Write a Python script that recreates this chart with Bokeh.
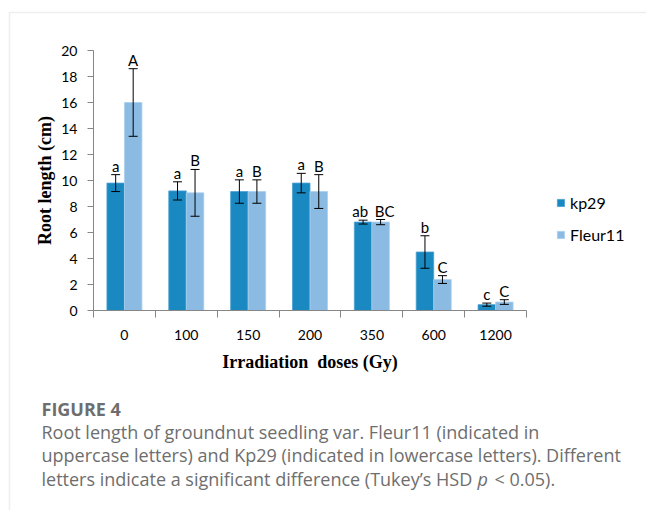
from bokeh.plotting import figure
from bokeh.models import (ColumnDataSource, Range1d, FixedTicker, Whisker, TeeHead,
                          Legend, LegendItem, Label, BoxAnnotation)
from bokeh.core.properties import value
from bokeh.embed import file_html
from bokeh.resources import INLINE

# ---- data ----
doses = ["0", "100", "150", "200", "350", "600", "1200"]
kp29 = [9.8, 9.2, 9.15, 9.8, 6.8, 4.5, 0.45]
kp29_err = [0.65, 0.7, 0.9, 0.75, 0.15, 1.25, 0.12]
fleur11 = [16.0, 9.05, 9.15, 9.15, 6.8, 2.38, 0.65]
fleur11_err = [2.6, 1.8, 0.9, 1.3, 0.2, 0.3, 0.18]
kp29_letters = ["a", "a", "a", "a", "ab", "b", "c"]
fleur11_letters = ["A", "B", "B", "B", "BC", "C", "C"]
y_ticks = list(range(0, 21, 2))

caption_title = "FIGURE 4"
caption_lines = [
    "Root length of groundnut seedling var. Fleur11 (indicated in",
    "uppercase letters) and Kp29 (indicated in lowercase letters). Different",
]
caption_last = ["letters indicate a significant difference (Tukey\u2019s HSD", "p", "< 0.05)."]

C_KP = "#1a89c2"
C_FL = "#8bbbe2"
AX = "#868686"
FONT = "Lato"

# ---- layout (pixels on the 646x510 canvas) ----
W, H = 646, 510
PL, PR, PT, PB = 93, 526, 50, 310      # plotting area
n = len(doses)
YMAX = 20
sx = (PR - PL) / n                      # px per category
sy = (PB - PT) / YMAX                   # px per unit
x0 = -PL / sx
x1 = n + (W - PR) / sx
y0 = -(H - PB) / sy
y1 = YMAX + PT / sy

def px_x(px):
    return x0 + px / sx

def px_y(py):
    return y1 - py / sy

centers = [i + 0.5 for i in range(n)]
bw = 0.283
off = bw / 2

src_kp = ColumnDataSource(dict(
    x=[c - off for c in centers], top=kp29,
    upper=[v + e for v, e in zip(kp29, kp29_err)],
    lower=[v - e for v, e in zip(kp29, kp29_err)],
    lab=kp29_letters,
    dx=[-3 * (len(t) - 1) for t in kp29_letters]))
src_fl = ColumnDataSource(dict(
    x=[c + off for c in centers], top=fleur11,
    upper=[v + e for v, e in zip(fleur11, fleur11_err)],
    lower=[v - e for v, e in zip(fleur11, fleur11_err)],
    lab=fleur11_letters,
    dx=[4 * (len(t) - 1) for t in fleur11_letters]))

p = figure(width=W, height=H, output_backend="svg", toolbar_location=None,
           x_range=Range1d(x0, x1), y_range=Range1d(y0, y1),
           min_border=0, min_border_left=0, min_border_right=0,
           min_border_top=0, min_border_bottom=0)
p.outline_line_color = None
p.xgrid.grid_line_color = None
p.ygrid.grid_line_color = None
p.background_fill_color = "white"
p.border_fill_color = "white"

# panel border
p.add_layout(BoxAnnotation(left=px_x(9), right=x1 + 5, top=px_y(12), bottom=y0 - 5,
                           fill_alpha=0, line_color="#c8c8c8", line_width=1.5))

r_kp = p.vbar(x="x", top="top", width=bw, source=src_kp, fill_color=C_KP,
              line_color="#4aa0d0", line_width=0.8)
r_fl = p.vbar(x="x", top="top", width=bw, source=src_fl, fill_color=C_FL,
              line_color="#a9cfee", line_width=0.8)

for s in (src_kp, src_fl):
    w = Whisker(source=s, base="x", upper="upper", lower="lower",
                line_color="black", line_width=1, level="overlay",
                upper_head=TeeHead(size=9, line_color="black", line_width=1),
                lower_head=TeeHead(size=9, line_color="black", line_width=1))
    p.add_layout(w)
    p.text(x="x", y="upper", text="lab", source=s, text_align="center",
           text_baseline="middle", y_offset=-9, x_offset="dx",
           text_font=value(FONT), text_font_size="15px", text_color="black",
           level="overlay")

# y axis
ya = p.yaxis[0]
ya.fixed_location = 0
ya.bounds = (0, YMAX)
ya.ticker = FixedTicker(ticks=y_ticks)
ya.axis_line_color = AX
ya.major_tick_line_color = AX
ya.major_tick_in = 0
ya.major_tick_out = 6
ya.minor_tick_line_color = None
ya.major_label_standoff = 10
ya.major_label_text_font = FONT
ya.major_label_text_font_size = "14px"
ya.major_label_text_color = "black"
ya.axis_label = "Root length (cm)"
ya.axis_label_text_font = "Liberation Serif"
ya.axis_label_text_font_style = "bold"
ya.axis_label_text_font_size = "18px"
ya.axis_label_text_color = "black"
ya.axis_label_standoff = 3

# x axis
xa = p.xaxis[0]
xa.fixed_location = 0
xa.bounds = (0, n)
xa.ticker = FixedTicker(ticks=centers, minor_ticks=list(range(n + 1)))
xa.major_label_overrides = {c: d for c, d in zip(centers, doses)}
xa.axis_line_color = AX
xa.major_tick_line_color = None
xa.major_tick_in = 0
xa.major_tick_out = 7
xa.minor_tick_line_color = AX
xa.minor_tick_in = 0
xa.minor_tick_out = 7
xa.major_label_standoff = 12
xa.major_label_text_font = FONT
xa.major_label_text_font_size = "14px"
xa.major_label_text_color = "black"
xa.axis_label = "Irradiation\u00a0 doses (Gy)"
xa.axis_label_text_font = "Liberation Serif"
xa.axis_label_text_font_style = "bold"
xa.axis_label_text_font_size = "18px"
xa.axis_label_text_color = "black"
xa.axis_label_standoff = 9

legend = Legend(items=[LegendItem(label="kp29", renderers=[r_kp]),
                       LegendItem(label="Fleur11", renderers=[r_fl])],
                location=(556, H - 244), orientation="vertical",
                glyph_width=9, glyph_height=9, label_height=9, spacing=13,
                label_standoff=5, padding=0, margin=0,
                border_line_color=None, background_fill_alpha=0,
                label_text_font=FONT, label_text_font_size="16px",
                label_text_color="black", label_text_baseline="middle")
p.add_layout(legend)

CAP = dict(text_font="Open Sans", text_font_size="18px", text_color="#6e6e6e",
           text_baseline="middle")
p.add_layout(Label(x=px_x(41), y=px_y(408), text=caption_title,
                   text_font_style="bold", **CAP))
for i, line in enumerate(caption_lines):
    p.add_layout(Label(x=px_x(41), y=px_y(431 + i * 23.5), text=line, **CAP))
y_last = px_y(431 + 2 * 23.5)
p.add_layout(Label(x=px_x(41), y=y_last, text=caption_last[0], **CAP))
p.add_layout(Label(x=px_x(477), y=y_last, text=caption_last[1],
                   text_font_style="italic", **CAP))
p.add_layout(Label(x=px_x(494), y=y_last, text=caption_last[2], **CAP))

open("out.html", "w").write(file_html(p, INLINE))
